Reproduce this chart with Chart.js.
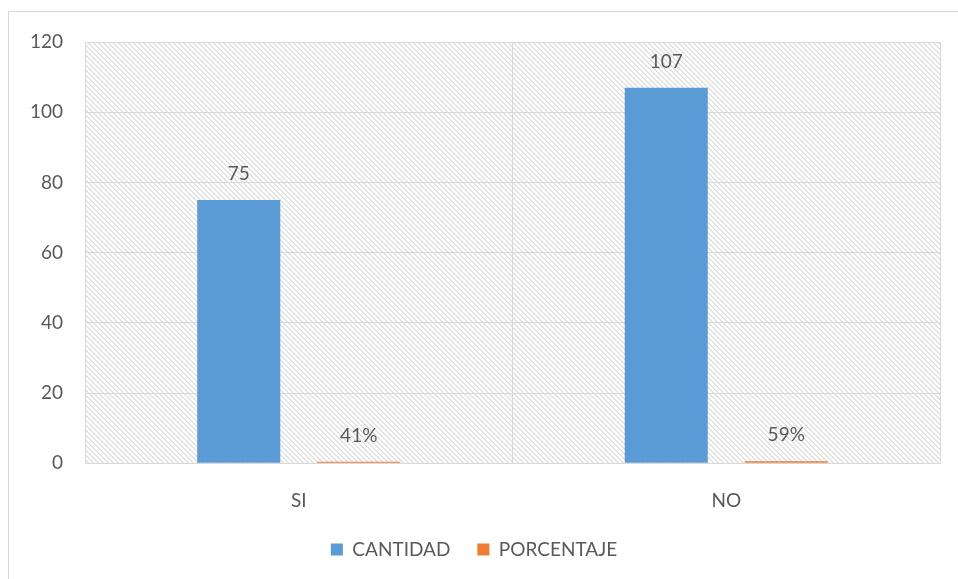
<!DOCTYPE html>
<html lang="es">
<head>
<meta charset="UTF-8">
<title>SI / NO</title>
<script src="https://cdn.jsdelivr.net/npm/chart.js"></script>
<style>
  html, body { margin: 0; padding: 0; background: #fff; overflow: hidden; }
  .frame { position: absolute; left: 8px; top: 11px; width: 970px; height: 600px; border: 1px solid #d9d9d9; }
  #chart { position: absolute; left: 0; top: 0; }
</style>
</head>
<body>
<div class="frame"></div>
<canvas id="chart" width="958" height="579"></canvas>
<script>
// data
const categorias = ["SI", "NO"];
const cantidad = [75, 107];
const porcentaje = [0.41, 0.59];
const yTicks = [0, 20, 40, 60, 80, 100, 120];

const textColor = "#595959";
const gridColor = "#d9d9d9";
const fontFamily = "Lato, 'Open Sans', sans-serif";
const fontSize = 19;

// diagonal hatch for the plot background
function hatchPattern(ctx) {
  const tile = document.createElement("canvas");
  tile.width = 5; tile.height = 5;
  const t = tile.getContext("2d");
  t.fillStyle = "#e2e2e2";
  for (let i = 0; i < 5; i++) {
    t.fillRect(i, i, 1, 1);
    t.fillRect((i + 1) % 5, i, 1, 1);
  }
  return ctx.createPattern(tile, "repeat");
}

const plotBg = {
  id: "plotBg",
  beforeDraw(chart) {
    const a = chart.chartArea, ctx = chart.ctx;
    ctx.save();
    ctx.fillStyle = hatchPattern(ctx);
    ctx.fillRect(a.left, a.top, a.right - a.left, a.bottom - a.top);
    ctx.restore();
  }
};

const valueLabels = {
  id: "valueLabels",
  afterDatasetsDraw(chart) {
    const ctx = chart.ctx;
    ctx.save();
    ctx.font = fontSize + "px " + fontFamily;
    ctx.fillStyle = textColor;
    ctx.textAlign = "center";
    ctx.textBaseline = "middle";
    chart.data.datasets.forEach((ds, di) => {
      chart.getDatasetMeta(di).data.forEach((bar, i) => {
        const v = ds.data[i];
        const txt = di === 1 ? Math.round(v * 100) + "%" : String(v);
        ctx.fillText(txt, bar.x, bar.y - 26);
      });
    });
    ctx.restore();
  }
};

new Chart(document.getElementById("chart"), {
  type: "bar",
  data: {
    labels: categorias,
    datasets: [
      { label: "CANTIDAD", data: cantidad, backgroundColor: "#5b9bd5" },
      { label: "PORCENTAJE", data: porcentaje, backgroundColor: "#ed7d31" }
    ]
  },
  options: {
    responsive: false,
    animation: false,
    categoryPercentage: 0.5614,
    barPercentage: 0.692,
    layout: { padding: { left: 8, right: 18, top: 42, bottom: 10 } },
    plugins: {
      tooltip: { enabled: false },
      legend: {
        position: "bottom",
        labels: {
          boxWidth: 12, boxHeight: 12, padding: 27,
          color: textColor,
          font: { family: fontFamily, size: fontSize }
        }
      }
    },
    scales: {
      x: {
        afterFit(axis) { axis.height -= 25; },
        grid: { color: gridColor, drawTicks: false },
        border: { color: gridColor },
        ticks: { color: textColor, padding: 26, font: { family: fontFamily, size: fontSize } }
      },
      y: {
        min: 0, max: 120,
        afterBuildTicks(axis) { axis.ticks = yTicks.map(v => ({ value: v })); },
        afterFit(axis) { axis.width = 77; },
        grid: { color: gridColor, drawTicks: false },
        border: { color: gridColor },
        ticks: { color: textColor, padding: 22, font: { family: fontFamily, size: fontSize } }
      }
    }
  },
  plugins: [plotBg, valueLabels]
});
</script>
</body>
</html>
